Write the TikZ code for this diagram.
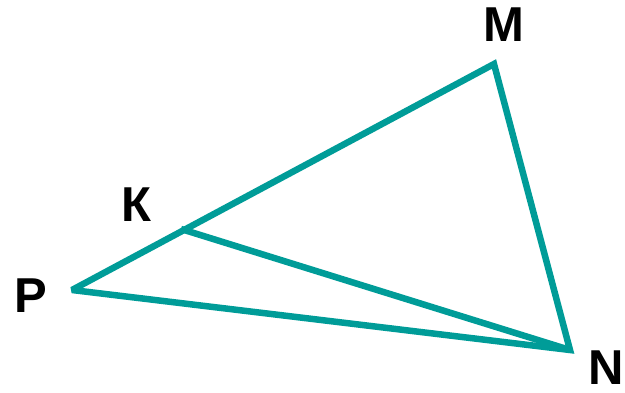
\documentclass[tikz,border=0pt]{standalone}
\usepackage{fontspec}
\setmainfont{Liberation Sans}
\definecolor{teal1}{HTML}{009C98}
\begin{document}
\begin{tikzpicture}[x=1pt,y=-1pt,
  edge/.style={draw=teal1,line width=6.5pt,line join=miter,miter limit=3,line cap=butt},
  lbl/.style={font=\fontsize{49}{50}\selectfont\bfseries,inner sep=0pt,anchor=center}]
\useasboundingbox (0,0) rectangle (625,393);
\coordinate (M) at (494,64);
\coordinate (N) at (570,350);
\coordinate (P) at (72,290);
\coordinate (K) at (181,229);
\draw[edge] (P) -- (M) -- (N) -- cycle;
\draw[edge] (K) -- (N);
\node[lbl] (lM) at (503.5,25) {M};
\node[lbl] (lK) at (136.5,205) {К};
\node[lbl] (lP) at (31,296) {P};
\node[lbl] (lN) at (606.5,368) {N};
\end{tikzpicture}
\end{document}
